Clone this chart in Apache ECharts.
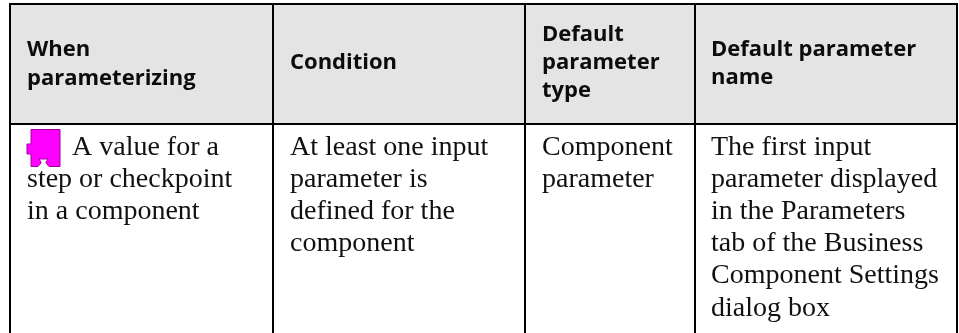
<!DOCTYPE html>
<html><head><meta charset="utf-8">
<style>html,body{margin:0;padding:0;background:#fff}#c{width:959px;height:333px}</style>
<script src="https://cdn.jsdelivr.net/npm/echarts@6/dist/echarts.min.js"></script>
</head><body><div id="c"></div>
<script>
const headers = [
  ["When", "parameterizing"],
  ["Condition"],
  ["Default", "parameter", "type"],
  ["Default parameter", "name"]
];
const row = [
  ["A value for a", "step or checkpoint", "in a component"],
  ["At least one input", "parameter is", "defined for the", "component"],
  ["Component", "parameter"],
  ["The first input", "parameter displayed", "in the Parameters", "tab of the Business", "Component Settings", "dialog box"]
];
const colEdges = [10, 273, 525, 695, 957];
const tableTop = 4, headBottom = 124, tableBottom = 333;
const textX = [27, 290, 542, 711];
const headY = [[50, 79], [63], [35, 63, 91], [50, 78]];
const bodyY = 147.7, pitch = 32.1;
const els = [];
els.push({type:'rect',shape:{x:colEdges[0],y:tableTop,width:colEdges[4]-colEdges[0],height:headBottom-tableTop},style:{fill:'#e4e4e4'}});
const ln=(x1,y1,x2,y2)=>els.push({type:'line',shape:{x1,y1,x2,y2},style:{stroke:'#000',lineWidth:2}});
ln(colEdges[0]-1,tableTop,colEdges[4]+1,tableTop);
ln(colEdges[0]-1,headBottom,colEdges[4]+1,headBottom);
colEdges.forEach(x=>ln(x,tableTop,x,tableBottom));
const txt=(t,x,y,bold)=>els.push({type:'text',style:{text:t,x,y,fill:bold?'#0c0c0c':'#111',verticalAlign:'middle',
  font:bold?'bold 22px "Open Sans"':'28px "Liberation Serif"'}});
headers.forEach((ls,i)=>ls.forEach((t,j)=>txt(t,textX[i],headY[i][j],true)));
row.forEach((ls,i)=>ls.forEach((t,j)=>{
  const x = (i===0&&j===0)? 72 : textX[i];
  txt(t,x,bodyY+j*pitch,false);
}));
els.push({type:'polygon',shape:{points:[[31,129.5],[60,129.5],[60,166.5],[49,166.5],[46,163],[46,162],[48,159],[39,159],[41,162],[41,163],[38,166.5],[31,166.5],[31,154],[27,154],[27,144],[31,144]]},style:{fill:'#ff00ff',stroke:'#a000a0',lineWidth:1}});
const chart=echarts.init(document.getElementById('c'),null,{renderer:'canvas'});
chart.setOption({animation:false,graphic:{elements:els}});
</script></body></html>
